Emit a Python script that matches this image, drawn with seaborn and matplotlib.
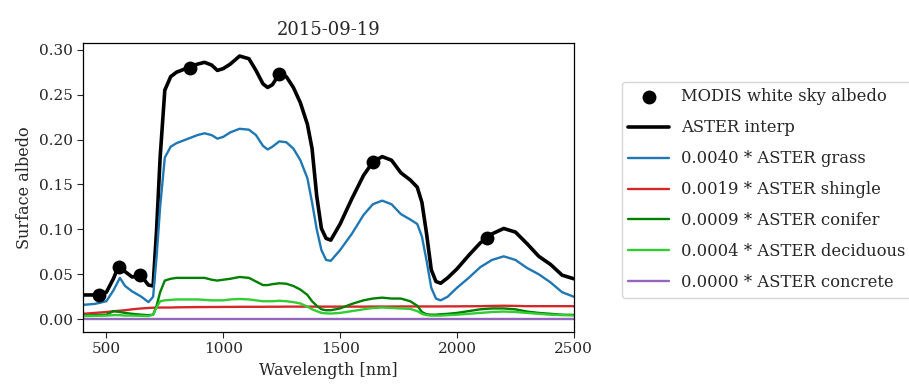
import numpy as np
import pandas as pd
import matplotlib
matplotlib.use("Agg")
import matplotlib.pyplot as plt
import seaborn as sns

sns.set_style("ticks")
plt.rcParams["font.family"] = ["DejaVu Serif"]

title = "2015-09-19"

modis_wl = [469, 555, 645, 858, 1240, 1640, 2130]
modis_albedo = [0.027, 0.058, 0.049, 0.280, 0.273, 0.175, 0.090]

wavelength = [400, 450, 500, 530, 558, 580, 610, 650, 680, 700, 715, 730, 750, 775, 800,
              830, 860, 890, 920, 950, 975, 1000, 1030, 1070, 1110, 1140, 1170, 1190, 1210,
              1240, 1270, 1300, 1330, 1360, 1380, 1400, 1420, 1440, 1460, 1500, 1550, 1600,
              1640, 1680, 1720, 1760, 1800, 1830, 1850, 1870, 1890, 1910, 1930, 1960, 2000,
              2050, 2100, 2150, 2200, 2250, 2300, 2350, 2400, 2450, 2500]

aster_interp = [0.027, 0.027, 0.030, 0.045, 0.063, 0.053, 0.047, 0.048, 0.038, 0.037, 0.100,
                0.180, 0.255, 0.270, 0.275, 0.278, 0.281, 0.284, 0.286, 0.283, 0.277, 0.279,
                0.284, 0.293, 0.290, 0.277, 0.262, 0.258, 0.261, 0.273, 0.270, 0.258, 0.241,
                0.217, 0.190, 0.137, 0.101, 0.090, 0.088, 0.106, 0.134, 0.160, 0.175, 0.181,
                0.177, 0.163, 0.155, 0.147, 0.130, 0.095, 0.055, 0.042, 0.040, 0.046, 0.056,
                0.071, 0.085, 0.095, 0.101, 0.097, 0.084, 0.070, 0.061, 0.049, 0.045]

grass = [0.016, 0.017, 0.020, 0.032, 0.046, 0.037, 0.031, 0.025, 0.019, 0.025, 0.070, 0.125,
         0.180, 0.192, 0.196, 0.199, 0.202, 0.205, 0.207, 0.205, 0.201, 0.203, 0.208, 0.212,
         0.211, 0.205, 0.193, 0.189, 0.192, 0.198, 0.197, 0.190, 0.177, 0.157, 0.130, 0.100,
         0.077, 0.066, 0.065, 0.077, 0.095, 0.116, 0.128, 0.132, 0.128, 0.117, 0.111, 0.106,
         0.092, 0.065, 0.035, 0.023, 0.021, 0.025, 0.035, 0.046, 0.058, 0.066, 0.070, 0.066,
         0.057, 0.050, 0.041, 0.030, 0.025]

shingle = [0.006, 0.007, 0.008, 0.0088, 0.0095, 0.010, 0.011, 0.012, 0.0125, 0.0128, 0.013,
           0.013, 0.013, 0.013, 0.0132, 0.0133, 0.0134, 0.0135, 0.0135, 0.0136, 0.0136, 0.0137,
           0.0137, 0.0138, 0.0138, 0.0138, 0.0138, 0.0139, 0.0139, 0.0139, 0.014, 0.014, 0.014,
           0.014, 0.014, 0.014, 0.014, 0.014, 0.014, 0.014, 0.014, 0.014, 0.0141, 0.0141, 0.0141,
           0.0142, 0.0142, 0.0142, 0.0142, 0.0142, 0.0142, 0.0142, 0.0142, 0.0143, 0.0143,
           0.0144, 0.0145, 0.0148, 0.015, 0.0148, 0.0145, 0.0145, 0.0145, 0.0145, 0.0145]

conifer = [0.004, 0.0045, 0.005, 0.009, 0.008, 0.007, 0.006, 0.005, 0.0045, 0.005, 0.015,
           0.030, 0.043, 0.045, 0.046, 0.046, 0.046, 0.046, 0.046, 0.044, 0.043, 0.044, 0.045,
           0.047, 0.046, 0.042, 0.038, 0.038, 0.039, 0.040, 0.0395, 0.037, 0.033, 0.027, 0.020,
           0.015, 0.011, 0.010, 0.010, 0.012, 0.017, 0.021, 0.023, 0.024, 0.023, 0.023, 0.020,
           0.015, 0.008, 0.0055, 0.005, 0.005, 0.0055, 0.006, 0.007, 0.009, 0.011, 0.012, 0.012,
           0.011, 0.0085, 0.007, 0.006, 0.005, 0.0048]

deciduous = [0.0035, 0.0037, 0.004, 0.0045, 0.0045, 0.004, 0.004, 0.0037, 0.0035, 0.005, 0.013,
             0.020, 0.021, 0.0215, 0.022, 0.022, 0.022, 0.022, 0.0215, 0.021, 0.021, 0.021, 0.022,
             0.0225, 0.022, 0.021, 0.020, 0.020, 0.020, 0.0205, 0.020, 0.019, 0.0175, 0.014,
             0.011, 0.009, 0.007, 0.0065, 0.0063, 0.007, 0.009, 0.011, 0.0125, 0.013, 0.0125,
             0.012, 0.0115, 0.009, 0.006, 0.0045, 0.004, 0.004, 0.004, 0.0045, 0.005, 0.006,
             0.007, 0.008, 0.0085, 0.008, 0.007, 0.006, 0.005, 0.0045, 0.0042]

concrete = [0.0005] * len(wavelength)

components = [
    ("0.0040 * ASTER grass", grass, "#1f77b4"),
    ("0.0019 * ASTER shingle", shingle, "#d62728"),
    ("0.0009 * ASTER conifer", conifer, "green"),
    ("0.0004 * ASTER deciduous", deciduous, "limegreen"),
    ("0.0000 * ASTER concrete", concrete, "#9467bd"),
]

fig = plt.figure(figsize=(9.09, 3.90), dpi=100)
ax = fig.add_axes([0.0913, 0.149, 0.540, 0.741])

modis_df = pd.DataFrame({"wl": modis_wl, "albedo": modis_albedo})
sns.scatterplot(data=modis_df, x="wl", y="albedo", ax=ax, color="black", s=100,
                edgecolor="black", linewidth=0, label="MODIS white sky albedo", zorder=4)

interp_df = pd.DataFrame({"wl": wavelength, "albedo": aster_interp})
sns.lineplot(data=interp_df, x="wl", y="albedo", ax=ax, color="black", linewidth=2.6,
             label="ASTER interp")

for name, vals, col in components:
    df = pd.DataFrame({"wl": wavelength, "albedo": vals})
    sns.lineplot(data=df, x="wl", y="albedo", ax=ax, color=col, linewidth=1.7, label=name)

ax.set_xlim(400, 2500)
ax.set_xticks([500, 1000, 1500, 2000, 2500])
ax.set_yticks([0.0, 0.05, 0.10, 0.15, 0.20, 0.25, 0.30])
ax.yaxis.set_major_formatter(matplotlib.ticker.FormatStrFormatter("%.2f"))
ax.tick_params(labelsize=11, direction="out", length=4, width=0.8)
for s in ax.spines.values():
    s.set_visible(True)
    s.set_linewidth(0.9)
    s.set_color("black")
ax.set_xlabel("Wavelength [nm]", fontsize=11.5)
ax.set_ylabel("Surface albedo", fontsize=11.5)
ax.set_title(title, fontsize=13)

handles, labels = ax.get_legend_handles_labels()
ax.get_legend().remove()
fig.legend(handles, labels, loc="upper left", bbox_to_anchor=(0.684, 0.79),
           fontsize=11.8, frameon=True, borderaxespad=0.0, labelspacing=0.85,
           handlelength=2.5, handletextpad=0.7, markerscale=1.0)

fig.savefig("out.png", dpi=100)
